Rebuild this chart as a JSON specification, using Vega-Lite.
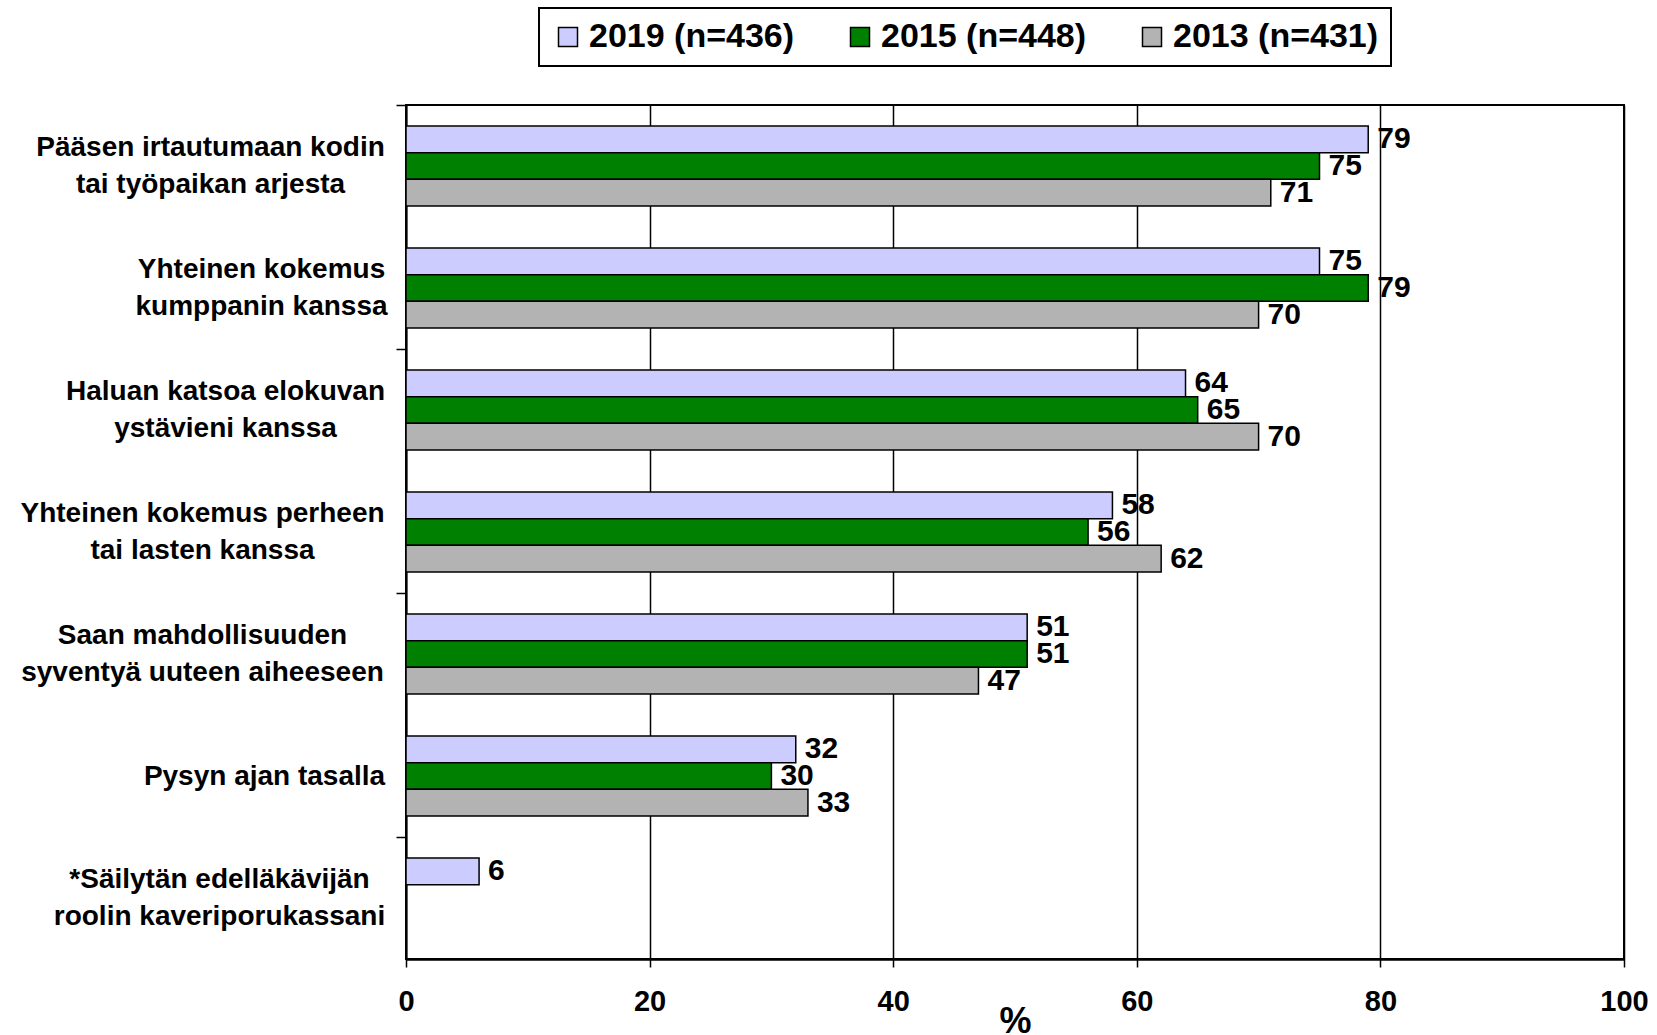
{
  "$schema": "https://vega.github.io/schema/vega-lite/v6.json",
  "autosize": {"type": "none"},
  "padding": {"left": 406, "top": 105, "right": 33, "bottom": 76},
  "width": 1218,
  "height": 854,
  "background": "white",
  "config": {
    "font": "Liberation Sans",
    "view": {"stroke": "black", "strokeWidth": 2},
    "legend": {"strokeColor": "black", "strokeWidth": 2, "fillColor": "white"}
  },
  "data": {
    "values": [
      {"item": "Pääsen irtautumaan kodin\ntai työpaikan arjesta", "year": "2019 (n=436)", "value": 79},
      {"item": "Pääsen irtautumaan kodin\ntai työpaikan arjesta", "year": "2015 (n=448)", "value": 75},
      {"item": "Pääsen irtautumaan kodin\ntai työpaikan arjesta", "year": "2013 (n=431)", "value": 71},
      {"item": "Yhteinen kokemus\nkumppanin kanssa", "year": "2019 (n=436)", "value": 75},
      {"item": "Yhteinen kokemus\nkumppanin kanssa", "year": "2015 (n=448)", "value": 79},
      {"item": "Yhteinen kokemus\nkumppanin kanssa", "year": "2013 (n=431)", "value": 70},
      {"item": "Haluan katsoa elokuvan\nystävieni kanssa", "year": "2019 (n=436)", "value": 64},
      {"item": "Haluan katsoa elokuvan\nystävieni kanssa", "year": "2015 (n=448)", "value": 65},
      {"item": "Haluan katsoa elokuvan\nystävieni kanssa", "year": "2013 (n=431)", "value": 70},
      {"item": "Yhteinen kokemus perheen\ntai lasten kanssa", "year": "2019 (n=436)", "value": 58},
      {"item": "Yhteinen kokemus perheen\ntai lasten kanssa", "year": "2015 (n=448)", "value": 56},
      {"item": "Yhteinen kokemus perheen\ntai lasten kanssa", "year": "2013 (n=431)", "value": 62},
      {"item": "Saan mahdollisuuden\nsyventyä uuteen aiheeseen", "year": "2019 (n=436)", "value": 51},
      {"item": "Saan mahdollisuuden\nsyventyä uuteen aiheeseen", "year": "2015 (n=448)", "value": 51},
      {"item": "Saan mahdollisuuden\nsyventyä uuteen aiheeseen", "year": "2013 (n=431)", "value": 47},
      {"item": "Pysyn ajan tasalla", "year": "2019 (n=436)", "value": 32},
      {"item": "Pysyn ajan tasalla", "year": "2015 (n=448)", "value": 30},
      {"item": "Pysyn ajan tasalla", "year": "2013 (n=431)", "value": 33},
      {"item": "*Säilytän edelläkävijän\nroolin kaveriporukassani", "year": "2019 (n=436)", "value": 6}
    ]
  },
  "encoding": {
    "y": {
      "field": "item",
      "type": "nominal",
      "sort": null,
      "scale": {"paddingInner": 0.344, "paddingOuter": 0.172},
      "axis": {
        "title": null,
        "domainColor": "black",
        "domainWidth": 2,
        "tickColor": "black",
        "tickWidth": 1.5,
        "tickSize": 10,
        "tickOffset": -61,
        "tickOpacity": {"condition": {"test": "indexof(['Pääsen','Haluan','Saan','*Säilytän'], split(datum.value, ' ')[0]) >= 0", "value": 1}, "value": 0},
        "labelOffset": 61,
        "labelExpr": "split(datum.label, '\\n')",
        "labelFont": "Liberation Sans",
        "labelFontSize": 28,
        "labelFontWeight": "bold",
        "labelColor": "black",
        "labelLineHeight": 37,
        "labelAlign": "center",
        "labelBaseline": "middle",
        "labelLimit": 0,
        "labelPadding": 0,
        "encoding": {
          "labels": {
            "dx": {
              "condition": [
                {"test": "indexof(datum.value, 'Pääsen') == 0", "value": -186},
                {"test": "indexof(datum.value, 'perheen') >= 0", "value": -194},
                {"test": "indexof(datum.value, 'Yhteinen') == 0", "value": -135},
                {"test": "indexof(datum.value, 'Haluan') == 0", "value": -171},
                {"test": "indexof(datum.value, 'Saan') == 0", "value": -194},
                {"test": "indexof(datum.value, 'Pysyn') == 0", "value": -132}
              ],
              "value": -177
            },
            "dy": {
              "condition": {"test": "indexof(datum.value, 'Pysyn') == 0", "value": 0},
              "value": -18.5
            }
          }
        }
      }
    },
    "yOffset": {
      "field": "year",
      "type": "nominal",
      "sort": ["2019 (n=436)", "2015 (n=448)", "2013 (n=431)"],
      "scale": {"paddingInner": 0, "paddingOuter": 0}
    },
    "x": {
      "field": "value",
      "type": "quantitative",
      "scale": {"domain": [0, 100], "nice": false},
      "axis": {
        "title": "%",
        "titleFont": "Liberation Sans",
        "titleFontSize": 36,
        "titleFontWeight": "bold",
        "titleColor": "black",
        "titlePadding": -12,
        "values": [0, 20, 40, 60, 80, 100],
        "grid": true,
        "gridColor": "black",
        "gridWidth": 1.5,
        "gridOpacity": 1,
        "domainColor": "black",
        "domainWidth": 2.5,
        "tickColor": "black",
        "tickWidth": 1.5,
        "tickSize": 8,
        "labelFont": "Liberation Sans",
        "labelFontSize": 29,
        "labelFontWeight": "bold",
        "labelColor": "black",
        "labelPadding": 20,
        "labelFlush": false
      }
    }
  },
  "layer": [
    {
      "mark": {"type": "bar", "stroke": "black", "strokeWidth": 1.5},
      "encoding": {
        "color": {
          "field": "year",
          "type": "nominal",
          "sort": ["2019 (n=436)", "2015 (n=448)", "2013 (n=431)"],
          "scale": {"domain": ["2019 (n=436)", "2015 (n=448)", "2013 (n=431)"], "range": ["#ccccff", "#008000", "#b3b3b3"]},
          "legend": {
            "title": null,
            "orient": "none",
            "direction": "horizontal",
            "legendX": 133,
            "legendY": -97,
            "padding": 12,
            "strokeColor": "black",
            "fillColor": "white",
            "symbolType": "square",
            "symbolSize": 361,
            "symbolStrokeColor": "black",
            "symbolStrokeWidth": 1.5,
            "symbolOpacity": 1,
            "labelFont": "Liberation Sans",
            "labelFontSize": 34,
            "labelFontWeight": "bold",
            "labelColor": "black",
            "labelOffset": 4,
            "labelLimit": 0,
            "columnPadding": 48
          }
        }
      }
    },
    {
      "mark": {"type": "text", "align": "left", "baseline": "middle", "dx": 9, "font": "Liberation Sans", "fontSize": 30, "fontWeight": "bold", "color": "black"},
      "encoding": {
        "text": {"field": "value", "type": "quantitative"}
      }
    }
  ]
}
